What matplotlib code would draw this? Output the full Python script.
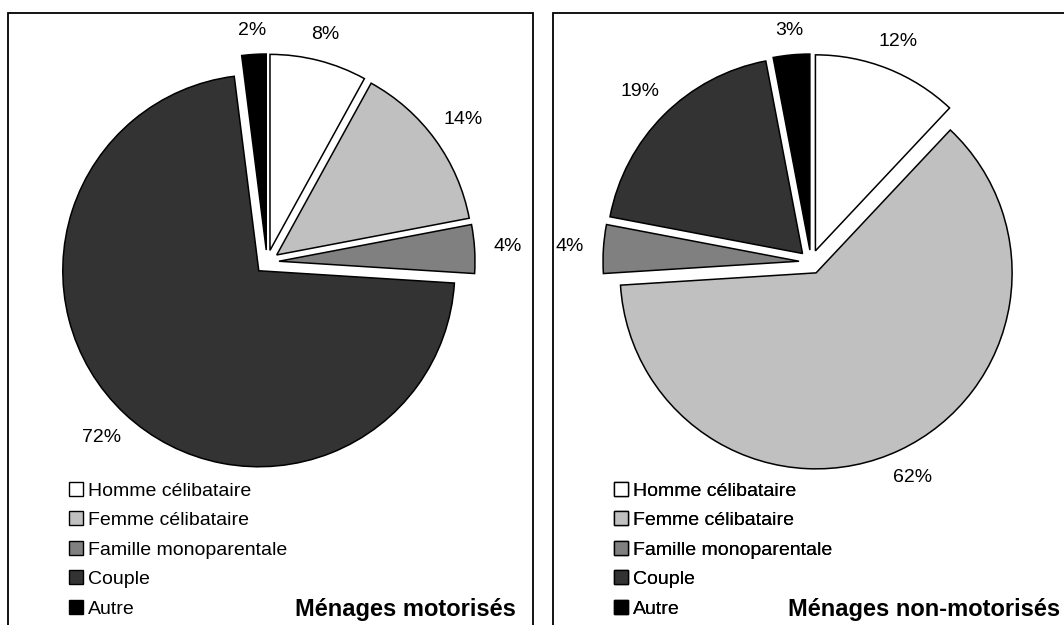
import numpy as np
import matplotlib.pyplot as plt
from matplotlib.patches import Rectangle, Patch

plt.rcParams['font.family'] = ['Liberation Sans', 'DejaVu Sans']

categories = ['Homme célibataire', 'Femme célibataire', 'Famille monoparentale',
              'Couple', 'Autre']
motorises = [8, 14, 4, 72, 2]
non_motorises = [12, 62, 4, 19, 3]
titles = ['Ménages motorisés', 'Ménages non-motorisés']
colors = ['#ffffff', '#c0c0c0', '#808080', '#333333', '#000000']

W, H = 1064, 625
fig = plt.figure(figsize=(W / 100, H / 100), dpi=100)
ax = fig.add_axes([0, 0, 1, 1])
ax.set_xlim(0, W)
ax.set_ylim(0, H)
ax.axis('off')

# panel frames (x_left, x_right) in pixels, they run past the bottom edge
panels = [(8, 533), (553, 1090)]
title_right = [516, 1060]
centers = [(267, H - 262), (811, H - 262)]
radius = 196

for i, (vals, title) in enumerate(zip([motorises, non_motorises], titles)):
    x0, x1 = panels[i]
    ax.add_patch(Rectangle((x0, -20), x1 - x0, H - 13 + 20, fill=False,
                           edgecolor='black', linewidth=1.3, clip_on=False))

    # explode is in data units here (pixels)
    wedges, _, autotexts = ax.pie(
        vals, colors=colors, startangle=90, counterclock=False,
        explode=[12] * len(vals), center=centers[i], radius=radius,
        autopct=lambda p: '{:.0f}%'.format(p), pctdistance=1.17,
        wedgeprops=dict(edgecolor='black', linewidth=1.1),
        textprops=dict(fontsize=14))

    # "outside end" labels: keep a fixed gap between slice and label box
    for w, t in zip(wedges, autotexts):
        th = np.deg2rad((w.theta1 + w.theta2) / 2)
        dx, dy = np.cos(th), np.sin(th)
        d = w.r + 15 + 8 * abs(dy) + 18 * abs(dx)
        t.set_position((w.center[0] + d * dx, w.center[1] + d * dy))

    ax.set_xlim(0, W)
    ax.set_ylim(0, H)

    handles = [Patch(facecolor=c, edgecolor='black', linewidth=1.0) for c in colors]
    leg = ax.legend(handles, categories, loc='upper left',
                    bbox_to_anchor=((x0 + 61) / W, 1 - 482 / H),
                    frameon=False, fontsize=14, handlelength=0.7,
                    handleheight=0.7, handletextpad=0.3, labelspacing=0.61,
                    borderaxespad=0, borderpad=0)
    ax.add_artist(leg)

    ax.text(title_right[i], 9, title, ha='right', va='baseline',
            fontsize=17, fontweight='bold')

fig.savefig('out.png', dpi=100)
